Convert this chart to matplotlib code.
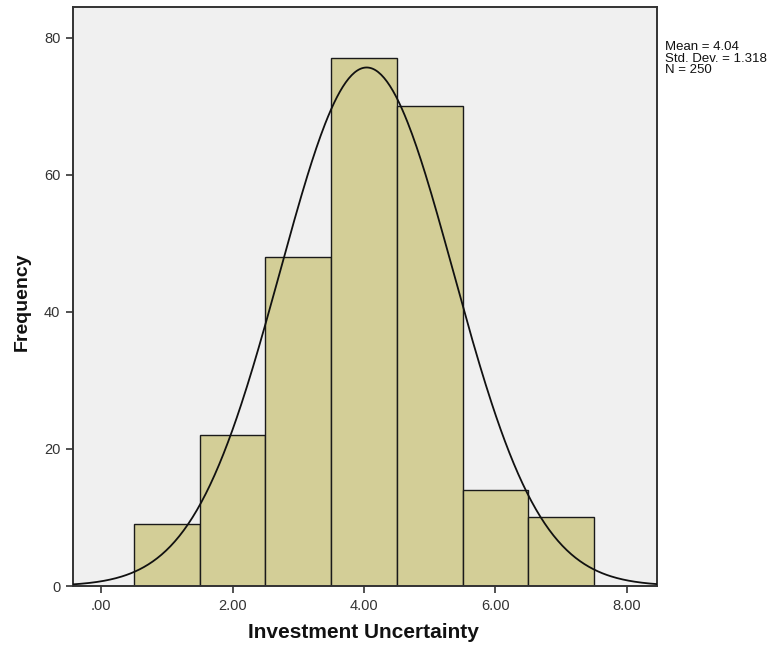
import numpy as np
import matplotlib
matplotlib.use("Agg")
import matplotlib.pyplot as plt

plt.rcParams['font.family'] = ['Liberation Sans', 'DejaVu Sans']

# histogram of Investment Uncertainty (bins of width 1)
bin_centers = [1, 2, 3, 4, 5, 6, 7]
counts = [9, 22, 48, 77, 70, 14, 10]
mean = 4.04
std_dev = 1.318
n_obs = 250
xticks = [0, 2, 4, 6, 8]
xtick_labels = ['.00', '2.00', '4.00', '6.00', '8.00']
yticks = [0, 20, 40, 60, 80]

fig = plt.figure(figsize=(7.83, 6.51), dpi=100)
ax = fig.add_axes([73/783, 65/651, 584/783, 579/651])
ax.set_facecolor('#f0f0f0')

ax.bar(bin_centers, counts, width=1.0, color='#d3ce97', edgecolor='#1a1a1a',
       linewidth=1.0, zorder=2)

xs = np.linspace(-0.45, 8.5, 400)
ys = n_obs * 1.0 / (std_dev * np.sqrt(2 * np.pi)) * np.exp(-0.5 * ((xs - mean) / std_dev) ** 2)
ax.plot(xs, ys, color='#111111', linewidth=1.3, zorder=3)

ax.set_xlim(-0.43, 8.46)
ax.set_ylim(0, 84.5)
ax.set_xticks(xticks)
ax.set_xticklabels(xtick_labels)
ax.set_yticks(yticks)
ax.tick_params(axis='both', direction='out', length=5, width=1.2,
               color='#333333', labelcolor='#333333', labelsize=10.5, pad=4)
for s in ax.spines.values():
    s.set_color('#333333')
    s.set_linewidth(1.4)

# axis titles placed like the SPSS output
fig.text(363/783, 1 - 633/651, 'Investment Uncertainty', fontsize=15,
         fontweight='bold', ha='center', va='center', color='#111111')
fig.text(22/783, 1 - 302/651, 'Frequency', fontsize=14, fontweight='bold',
         rotation=90, ha='center', va='center', color='#111111')

fig.text(665/783, 1 - 41/651, 'Mean = %.2f\nStd. Dev. = %.3f\nN = %d' % (mean, std_dev, n_obs),
         fontsize=9.5, va='top', ha='left', color='#111111', linespacing=0.95)

fig.savefig('out.png', dpi=100)
